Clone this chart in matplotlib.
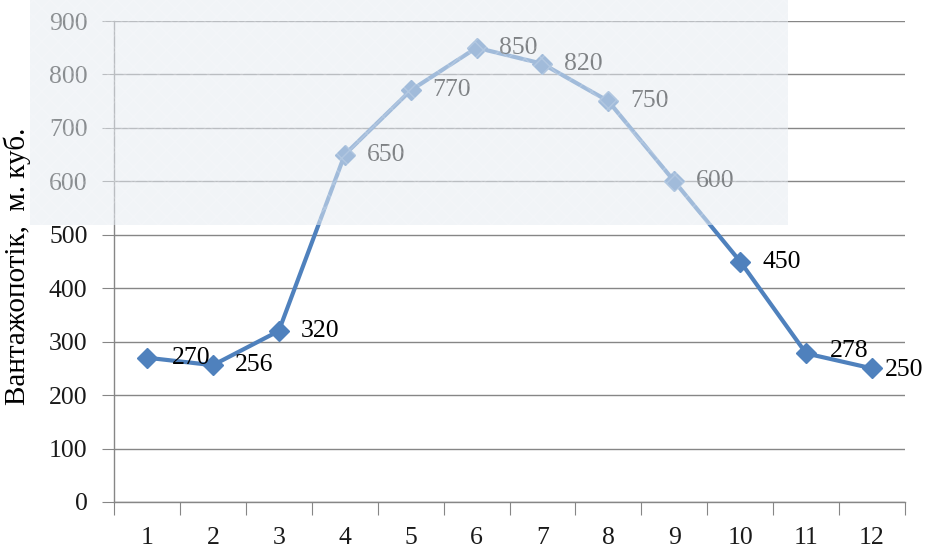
import matplotlib.pyplot as plt
from matplotlib.patches import Rectangle

plt.rcParams['font.family'] = ['Liberation Serif', 'DejaVu Serif']

# Вантажопотік по місяцях
months = ['1', '2', '3', '4', '5', '6', '7', '8', '9', '10', '11', '12']
volume = [270, 256, 320, 650, 770, 850, 820, 750, 600, 450, 278, 250]

# зсув підписів (пікселі) там, де стандартний не підходить
label_shift = {0: (25, 0), 10: (24, 2), 11: (13, -2)}

fig = plt.figure(figsize=(9.3, 5.49), dpi=100)
ax = fig.add_axes([114 / 930, 1 - 502 / 549, (905 - 114) / 930, (502 - 21) / 549])

x = [i + 0.5 for i in range(len(months))]
ax.plot(x, volume, color='#4F81BD', lw=3, marker='D', ms=10, zorder=3)

for i, v in enumerate(volume):
    dx, dy = label_shift.get(i, (22, 0))
    ax.annotate(str(v), (x[i], v), xytext=(dx, dy), textcoords='offset pixels',
                ha='left', va='center', fontsize=18.5, color='black', zorder=4)

ax.set_xlim(0, 12)
ax.set_ylim(0, 900)
ax.set_yticks(range(0, 901, 100))
ax.set_xticks(range(0, 13))
ax.set_xticklabels([])
ax.set_xticks(x, minor=True)
ax.set_xticklabels(months, minor=True)
ax.tick_params(axis='x', which='major', length=9, color='#868686', direction='out')
ax.tick_params(axis='x', which='minor', length=0, pad=18, labelsize=18.5, labelcolor='#1a1a1a')
ax.tick_params(axis='y', length=9, color='#868686', labelsize=18.5, labelcolor='#1a1a1a', pad=10)

ax.grid(axis='y', color='#868686', lw=1)
ax.set_axisbelow(True)
for s in ['top', 'right']:
    ax.spines[s].set_visible(False)
for s in ['left', 'bottom']:
    ax.spines[s].set_color('#868686')
    ax.spines[s].set_linewidth(1)

ax.set_ylabel('Вантажопотік,  м. куб.', fontsize=21)
ax.yaxis.set_label_coords(-0.105, 0.49)

# світла візерунчаста плашка у верхній лівій частині
overlay = Rectangle((30 / 930, 1 - 225 / 549), (788 - 30) / 930, 225 / 549,
                    transform=fig.transFigure, facecolor='#e6ecf2', alpha=0.55,
                    edgecolor='none', zorder=10)
fig.patches.append(overlay)
pattern = Rectangle((30 / 930, 1 - 225 / 549), (788 - 30) / 930, 225 / 549,
                    transform=fig.transFigure, facecolor='none', hatch='xx',
                    edgecolor='#ffffff', lw=0, alpha=0.18, zorder=11)
fig.patches.append(pattern)

fig.savefig('out.png', dpi=100)
